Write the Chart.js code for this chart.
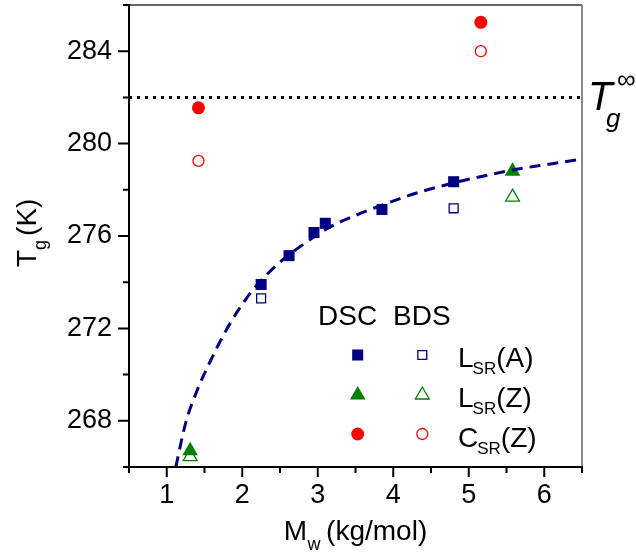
<!DOCTYPE html>
<html>
<head>
<meta charset="utf-8">
<script src="https://cdn.jsdelivr.net/npm/chart.js@4.4.1/dist/chart.umd.min.js"></script>
<style>
  body { margin: 0; background: #fff; }
</style>
</head>
<body>
<canvas id="mycanvas" width="636" height="556"></canvas>
<script>
// Tg vs Mw, DSC (filled) and BDS (open)
var lsrA_dsc_x = [2.25, 2.62, 2.95, 3.10, 3.85, 4.80];
var lsrA_dsc_y = [273.9, 275.15, 276.15, 276.55, 277.15, 278.35];
var lsrA_bds_x = [2.25, 4.80];
var lsrA_bds_y = [273.3, 277.2];
var lsrZ_dsc_x = [1.31, 5.58];
var lsrZ_dsc_y = [266.7, 278.8];
var lsrZ_bds_x = [1.31, 5.58];
var lsrZ_bds_y = [266.45, 277.68];
var csrZ_dsc_x = [1.42, 5.16];
var csrZ_dsc_y = [281.55, 285.25];
var csrZ_bds_x = [1.42, 5.16];
var csrZ_bds_y = [279.25, 284.0];

// dashed fit
var fit_x = [1.12, 1.25, 1.4, 1.58, 1.75, 1.95, 2.15, 2.46, 2.77, 3.17, 3.47, 3.78, 4.09, 4.4, 4.8, 5.2, 5.6, 5.94, 6.25, 6.5];
var fit_y = [266.0, 267.9, 269.3, 270.6, 271.7, 272.8, 273.7, 274.75, 275.55, 276.4, 276.85, 277.25, 277.62, 277.95, 278.3, 278.6, 278.87, 279.05, 279.2, 279.33];

var tgInf = 282;
var xMin = 0.5, xMax = 6.5;
var yMin = 266, yMax = 286;
var xTickLabels = [1, 2, 3, 4, 5, 6];
var yTickLabels = [268, 272, 276, 280, 284];

var NAVY = '#000080', GREEN = '#008000', RED = '#ff0000';
var FONT = '"Liberation Sans", Arial, sans-serif';

function pts(xs, ys) {
  var out = [];
  for (var i in xs) out.push({x: xs[i], y: ys[i]});
  return out;
}

function marker(data, style, r, color, open) {
  return {
    data: data,
    showLine: false,
    pointStyle: style,
    pointRadius: r,
    pointHoverRadius: r,
    pointBackgroundColor: open ? 'rgba(0,0,0,0)' : color,
    pointBorderColor: color,
    pointBorderWidth: open ? 1.3 : 0
  };
}

var frame = {
  id: 'frame',
  afterDraw: function(chart) {
    var ctx = chart.ctx, a = chart.chartArea;
    var xs = chart.scales.x, ys = chart.scales.y;
    ctx.save();
    // top + right border
    ctx.lineWidth = 1.5;
    ctx.strokeStyle = '#333';
    ctx.beginPath(); ctx.moveTo(a.left, a.top); ctx.lineTo(a.right, a.top); ctx.stroke();
    ctx.strokeStyle = '#888';
    ctx.lineWidth = 2;
    ctx.beginPath(); ctx.moveTo(a.right, a.top); ctx.lineTo(a.right, a.bottom); ctx.stroke();
    // axes
    ctx.strokeStyle = '#000';
    ctx.lineWidth = 2;
    ctx.beginPath();
    ctx.moveTo(a.left, a.top - 1); ctx.lineTo(a.left, a.bottom);
    ctx.lineTo(a.right + 1, a.bottom);
    ctx.stroke();
    // ticks
    ctx.lineWidth = 2;
    ctx.beginPath();
    for (var v = yMin; v <= yMax + 0.001; v += 2) {
      var py = ys.getPixelForValue(v);
      var len = yTickLabels.indexOf(v) >= 0 ? 11 : 6;
      ctx.moveTo(a.left - len, py); ctx.lineTo(a.left, py);
    }
    for (var u = xMin; u <= xMax + 0.001; u += 0.5) {
      var px = xs.getPixelForValue(u);
      var l2 = xTickLabels.indexOf(u) >= 0 ? 10 : 6;
      ctx.moveTo(px, a.bottom); ctx.lineTo(px, a.bottom + l2);
    }
    ctx.stroke();

    ctx.fillStyle = '#000';
    ctx.textBaseline = 'alphabetic';
    ctx.textAlign = 'left';

    // x title: M_w (kg/mol)
    ctx.font = '28px ' + FONT;
    var wM = ctx.measureText('M').width;
    var wP = ctx.measureText('(kg/mol)').width;
    ctx.font = '18px ' + FONT;
    var wW = ctx.measureText('w').width;
    var tot = wM + wW + 6 + wP;
    var sx = (a.left + a.right) / 2 - tot / 2;
    ctx.font = '28px ' + FONT;
    ctx.fillText('M', sx, 540);
    ctx.fillText('(kg/mol)', sx + wM + wW + 6, 540);
    ctx.font = '18px ' + FONT;
    ctx.fillText('w', sx + wM + 0.5, 550);

    // y title: T_g(K), rotated
    ctx.save();
    ctx.translate(36, 267);
    ctx.rotate(-Math.PI / 2);
    ctx.font = '28px ' + FONT;
    var wT = ctx.measureText('T').width;
    ctx.fillText('T', 0, 0);
    ctx.font = '18px ' + FONT;
    var wg = ctx.measureText('g').width;
    ctx.fillText('g', wT, 10);
    ctx.font = '28px ' + FONT;
    ctx.fillText('(K)', wT + wg + 4, 0);
    ctx.restore();

    // T_g infinity label
    var yi = ys.getPixelForValue(tgInf);
    ctx.font = 'italic 40px ' + FONT;
    ctx.fillText('T', a.right + 6, yi + 13);
    ctx.font = 'italic 26px ' + FONT;
    ctx.fillText('g', a.right + 24, yi + 30);
    ctx.font = '26px ' + FONT;
    ctx.fillText('\u221E', a.right + 35, yi - 9);

    // legend
    ctx.font = '28px ' + FONT;
    ctx.fillText('DSC', 318, 325);
    ctx.fillText('BDS', 393, 325);
    var rows = [
      {style: 'rect', r1: 7.8, r2: 6.3, c: NAVY, y: 355, dy: 0, main: 'L', tail: '(A)', base: 367},
      {style: 'triangle', r1: 9, r2: 8, c: GREEN, y: 393, dy: 2, main: 'L', tail: '(Z)', base: 407},
      {style: 'circle', r1: 6.5, r2: 5.5, c: RED, y: 434, dy: 0, main: 'C', tail: '(Z)', base: 447}
    ];
    rows.forEach(function(row) {
      ctx.fillStyle = row.c;
      ctx.strokeStyle = row.c;
      Chart.helpers.drawPoint(ctx, {pointStyle: row.style, radius: row.r1, rotation: 0, borderWidth: 0}, 357.7, row.y + row.dy);
      ctx.fillStyle = 'rgba(0,0,0,0)';
      ctx.lineWidth = 1.3;
      Chart.helpers.drawPoint(ctx, {pointStyle: row.style, radius: row.r2, rotation: 0, borderWidth: 1.3}, 422.3, row.y + row.dy);
      ctx.fillStyle = '#000';
      ctx.font = '28px ' + FONT;
      var wm = ctx.measureText(row.main).width;
      ctx.fillText(row.main, 458, row.base);
      ctx.font = '17px ' + FONT;
      var ws = ctx.measureText('SR').width;
      ctx.fillText('SR', 458 + wm - 1, row.base + 7);
      ctx.font = '28px ' + FONT;
      ctx.fillText(row.tail, 458 + wm - 1 + ws, row.base);
    });
    ctx.restore();
  }
};

var chartdata = {
  datasets: [
    {
      data: pts(fit_x, fit_y),
      showLine: true,
      borderColor: NAVY,
      borderWidth: 3,
      borderDash: [11, 7],
      pointRadius: 0,
      cubicInterpolationMode: 'monotone'
    },
    {
      data: [{x: xMin, y: tgInf}, {x: xMax, y: tgInf}],
      showLine: true,
      borderColor: '#000',
      borderWidth: 3,
      borderDash: [3, 5],
      pointRadius: 0
    },
    marker(pts(lsrA_dsc_x, lsrA_dsc_y), 'rect', 7.8, NAVY, false),
    marker(pts(lsrA_bds_x, lsrA_bds_y), 'rect', 6.3, NAVY, true),
    marker(pts(lsrZ_dsc_x, lsrZ_dsc_y), 'triangle', 9, GREEN, false),
    marker(pts(lsrZ_bds_x, lsrZ_bds_y), 'triangle', 8, GREEN, true),
    marker(pts(csrZ_dsc_x, csrZ_dsc_y), 'circle', 6.5, RED, false),
    marker(pts(csrZ_bds_x, csrZ_bds_y), 'circle', 5.5, RED, true)
  ]
};

Chart.defaults.color = '#000';
Chart.defaults.font.family = FONT;

var ctx = document.getElementById('mycanvas');
var chart = new Chart(ctx, {
  type: 'scatter',
  data: chartdata,
  options: {
    responsive: false,
    animation: false,
    devicePixelRatio: 1,
    layout: {autoPadding: false, padding: {left: 0, right: 54, top: 5, bottom: 0}},
    plugins: {legend: {display: false}, tooltip: {enabled: false}},
    scales: {
      x: {
        type: 'linear',
        min: xMin, max: xMax,
        grid: {display: false, drawTicks: false},
        border: {display: false},
        afterFit: function(s) { s.height = 89; s.paddingLeft = 0; s.paddingRight = 0; },
        ticks: {
          stepSize: 0.5,
          padding: 12,
          font: {size: 27},
          maxRotation: 0,
          autoSkip: false,
          callback: function(v) { return xTickLabels.indexOf(v) >= 0 ? String(v) : ''; }
        }
      },
      y: {
        type: 'linear',
        min: yMin, max: yMax,
        grid: {display: false, drawTicks: false},
        border: {display: false},
        afterFit: function(s) { s.width = 129; s.paddingTop = 0; s.paddingBottom = 0; },
        ticks: {
          stepSize: 2,
          padding: 17,
          font: {size: 27},
          autoSkip: false,
          callback: function(v) { return yTickLabels.indexOf(v) >= 0 ? String(v) : ''; }
        }
      }
    }
  },
  plugins: [frame]
});
</script>
</body>
</html>
